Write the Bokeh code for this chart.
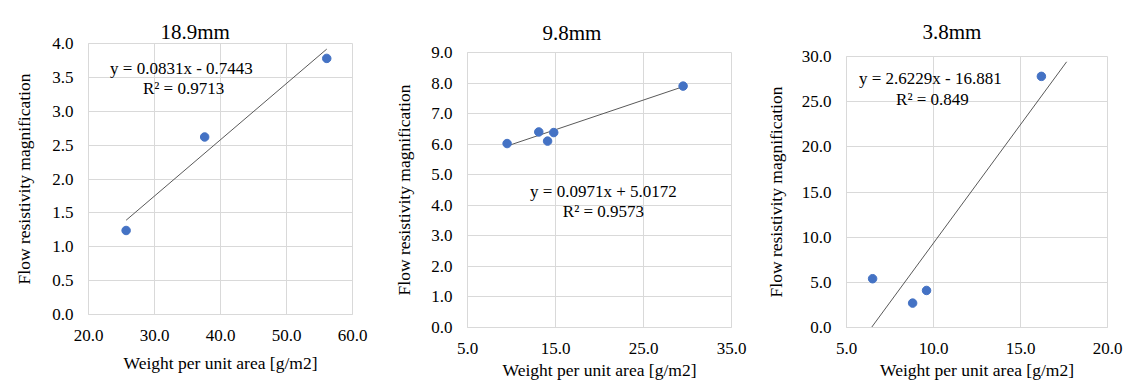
from bokeh.plotting import figure
from bokeh.models import (Label, BoxAnnotation, FixedTicker, NumeralTickFormatter, Range1d,
                          LinearAxis, Grid)
from bokeh.embed import file_html
from bokeh.resources import INLINE

# ---------------- data ----------------
titles = ["18.9mm", "9.8mm", "3.8mm"]

w_189 = [25.7, 37.6, 56.1]
f_189 = [1.24, 2.62, 3.78]
trend_x_189 = [25.7, 56.1]
slope_189, icpt_189 = 0.0831, -0.7443
eq_189 = ["y = 0.0831x  - 0.7443", "R\u00b2 = 0.9713"]

w_98 = [9.5, 13.1, 14.1, 14.8, 29.5]
f_98 = [6.02, 6.40, 6.10, 6.38, 7.90]
trend_x_98 = [9.5, 29.5]
slope_98, icpt_98 = 0.0971, 5.0172
eq_98 = ["y = 0.0971x + 5.0172", "R\u00b2 = 0.9573"]

w_38 = [6.5, 8.8, 9.6, 16.2]
f_38 = [5.4, 2.7, 4.1, 27.8]
trend_x_38 = [6.44, 17.65]
slope_38, icpt_38 = 2.6229, -16.881
eq_38 = ["y = 2.6229x  - 16.881", "R\u00b2 = 0.849"]

x_ticks_189 = [20, 30, 40, 50, 60]
y_ticks_189 = [0, 0.5, 1, 1.5, 2, 2.5, 3, 3.5, 4]
x_ticks_98 = [5, 15, 25, 35]
y_ticks_98 = [0, 1, 2, 3, 4, 5, 6, 7, 8, 9]
x_ticks_38 = [5, 10, 15, 20]
y_ticks_38 = [0, 5, 10, 15, 20, 25, 30]

x_label = "Weight per unit area [g/m2]"
y_label = "Flow resistivity magnification"

FONT = "Liberation Serif"
GRID = "#d9d9d9"
BLUE = "#4472C4"
H = 382


def make_axis(ticks, label, tick_standoff, label_standoff):
    return LinearAxis(
        ticker=FixedTicker(ticks=ticks),
        formatter=NumeralTickFormatter(format="0.0"),
        axis_label=label,
        axis_line_color=GRID,
        major_tick_line_color=None, minor_tick_line_color=None,
        major_tick_out=0, major_tick_in=0, minor_tick_out=0, minor_tick_in=0,
        major_label_text_font=FONT, major_label_text_font_size="17px",
        major_label_text_font_style="normal", major_label_text_color="black",
        major_label_standoff=tick_standoff,
        axis_label_text_font=FONT, axis_label_text_font_size="17.5px",
        axis_label_text_font_style="normal", axis_label_text_color="black",
        axis_label_standoff=label_standoff,
    )


def panel(title, xs, ys, tx, slope, icpt, eq, xticks, yticks, eq_pos,
          width, mb_left, mb_right, mb_top, mb_bottom,
          title_off, title_standoff, ylab_standoff, xlab_standoff, box):
    p = figure(width=width, height=H, output_backend="svg", toolbar_location=None,
               x_axis_type=None, y_axis_type=None,
               x_range=Range1d(xticks[0], xticks[-1]), y_range=Range1d(yticks[0], yticks[-1]),
               min_border_left=mb_left, min_border_right=mb_right,
               min_border_top=mb_top, min_border_bottom=mb_bottom,
               background_fill_color="white", border_fill_color="white")
    p.styles = {"float": "left"}
    p.outline_line_color = GRID
    p.title.text = title
    p.title.text_font = FONT
    p.title.text_font_size = "21px"
    p.title.text_font_style = "normal"
    p.title.text_color = "black"
    p.title.align = "left"
    p.title.offset = title_off
    p.title.standoff = title_standoff

    xaxis = make_axis(xticks, x_label, 15, xlab_standoff)
    yaxis = make_axis(yticks, y_label, 15, ylab_standoff)
    p.add_layout(xaxis, "below")
    p.add_layout(yaxis, "left")
    p.add_layout(Grid(dimension=0, ticker=xaxis.ticker, grid_line_color=GRID))
    p.add_layout(Grid(dimension=1, ticker=yaxis.ticker, grid_line_color=GRID))

    ty = [slope * x + icpt for x in tx]
    p.line(tx, ty, line_color="#595959", line_width=1)
    p.scatter(xs, ys, size=8.5, fill_color=BLUE, line_color=BLUE)

    for i, txt in enumerate(eq):
        p.add_layout(Label(x=eq_pos[0], y=eq_pos[1 + i], text=txt, text_align="center",
                           text_baseline="middle", text_font=FONT, text_font_size="17px",
                           text_color="black"))

    p.add_layout(BoxAnnotation(left=box[0], right=box[1], top=box[2], bottom=H + 10,
                               left_units="canvas", right_units="canvas",
                               top_units="canvas", bottom_units="canvas",
                               fill_alpha=0, line_color=GRID, line_width=1.5))
    return p


p1 = panel(titles[0], w_189, f_189, trend_x_189, slope_189, icpt_189, eq_189,
           x_ticks_189, y_ticks_189, (34.4, 3.63, 3.34),
           381, 88, 29, 43, 68, 72, 0, 15, 9, (5.5, 373, 6))
p2 = panel(titles[1], w_98, f_98, trend_x_98, slope_98, icpt_98, eq_98,
           x_ticks_98, y_ticks_98, (20.45, 4.45, 3.8),
           381, 86, 31, 52, 55, 75, 16, 14, 3, (0.5, 380.5, 5.5))
p3 = panel(titles[2], w_38, f_38, trend_x_38, slope_38, icpt_38, eq_38,
           x_ticks_38, y_ticks_38, (9.94, 27.56, 25.24),
           369, 81, 24, 56, 55, 76, 26, 13, 3, (0.5, 400, 5))

open("out.html", "w").write(file_html([p1, p2, p3], INLINE))
